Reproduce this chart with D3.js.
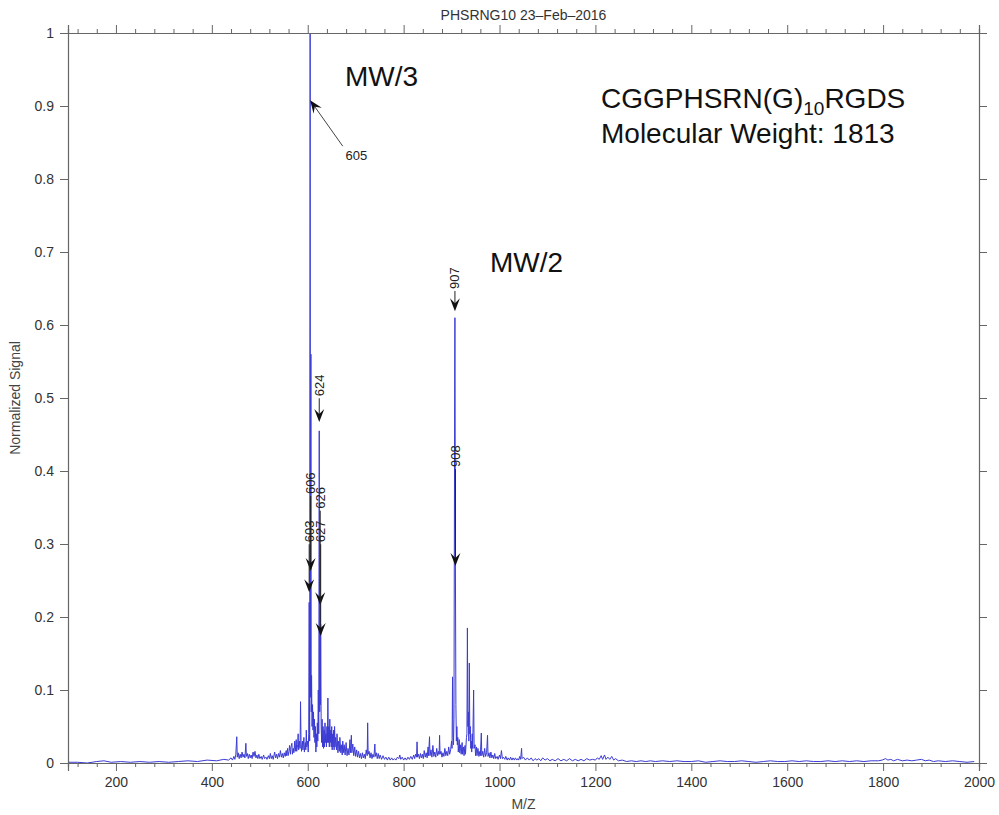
<!DOCTYPE html>
<html>
<head>
<meta charset="utf-8">
<script src="https://cdn.jsdelivr.net/npm/d3@7"></script>
<style>
  body { margin: 0; background: #fff; }
  text { font-family: "Liberation Sans", Arial, sans-serif; }
</style>
</head>
<body>
<div id="chart"></div>
<script>
// spectrum: [m/z, normalized signal]
const spectrum = [
  [100,0.001],[120,0.001],[140,0.0],[160,0.002],[175,0.003],[190,0.001],[210,0.002],[230,0.001],
  [250,0.002],[270,0.001],[290,0.002],[310,0.001],[330,0.002],[350,0.003],[370,0.002],[390,0.004],
  [410,0.003],[425,0.005],[435,0.004],[440,0.007],[443,0.004],[446,0.009],[448,0.005],[450,0.012],
  [452,0.036],[453,0.008],[455,0.014],[457,0.006],[459,0.012],[461,0.007],[463,0.015],[465,0.008],
  [467,0.012],[469,0.007],[471,0.027],[472,0.009],[474,0.013],[476,0.006],[478,0.012],[480,0.007],
  [482,0.011],[484,0.006],[486,0.015],[488,0.009],[490,0.016],[492,0.007],[494,0.011],[496,0.006],
  [498,0.012],[500,0.006],[503,0.009],[505,0.005],[508,0.011],[510,0.006],[513,0.008],[515,0.005],
  [518,0.01],[520,0.006],[522,0.013],[524,0.006],[526,0.01],[528,0.005],[531,0.015],[533,0.007],
  [535,0.012],[537,0.006],[539,0.013],[541,0.008],[543,0.017],[545,0.008],[547,0.013],[549,0.007],
  [551,0.014],[553,0.009],[555,0.017],[556,0.01],[558,0.02],[559,0.01],[561,0.016],[562,0.024],
  [564,0.012],[565,0.022],[567,0.027],[568,0.012],[570,0.02],[571,0.014],[573,0.03],[574,0.016],
  [576,0.032],[577,0.016],[579,0.025],[580,0.04],[581,0.018],[583,0.03],[584,0.02],[585,0.084],
  [586,0.03],[587,0.016],[589,0.03],[590,0.018],[592,0.035],[593,0.015],[595,0.028],[596,0.018],
  [597,0.045],[598,0.022],[600,0.03],[601,0.015],[602,0.04],[603,0.22],[604,0.03],[605,1.0],
  [605.7,0.09],[606.6,0.56],[607.3,0.07],[608,0.12],[609,0.05],[610,0.08],[611,0.045],[612,0.07],
  [613,0.035],[614,0.06],[615,0.028],[616,0.05],[617,0.015],[618,0.04],[619,0.022],[620,0.055],
  [621,0.03],[622,0.1],[623,0.04],[624,0.455],[625,0.07],[626,0.22],[626.5,0.08],[627,0.19],
  [628,0.05],[629,0.028],[630,0.06],[631,0.022],[632,0.05],[633,0.02],[634,0.045],[635,0.022],
  [636,0.055],[637,0.028],[638,0.04],[639,0.022],[640,0.05],[641,0.028],[642,0.089],[643,0.028],
  [644,0.05],[645,0.022],[646,0.06],[647,0.028],[648,0.045],[649,0.022],[650,0.05],[651,0.018],
  [652,0.04],[653,0.022],[654,0.045],[655,0.018],[656,0.05],[657,0.022],[658,0.035],[660,0.018],
  [661,0.04],[663,0.014],[664,0.03],[666,0.016],[667,0.035],[669,0.014],[670,0.025],[672,0.011],
  [673,0.03],[675,0.014],[676,0.025],[678,0.011],[680,0.028],[682,0.01],[684,0.02],[686,0.011],
  [688,0.032],[689,0.014],[691,0.038],[692,0.014],[694,0.026],[696,0.01],[698,0.022],[700,0.009],
  [702,0.018],[704,0.008],[706,0.016],[708,0.007],[710,0.013],[712,0.006],[714,0.014],[716,0.007],
  [718,0.012],[720,0.006],[722,0.018],[724,0.01],[725,0.055],[726,0.012],[728,0.016],[730,0.007],
  [732,0.014],[734,0.006],[736,0.012],[738,0.008],[740,0.026],[741,0.009],[743,0.014],[745,0.006],
  [747,0.013],[749,0.006],[751,0.011],[754,0.005],[757,0.01],[760,0.005],[763,0.008],[766,0.004],
  [769,0.008],[772,0.004],[775,0.007],[778,0.004],[781,0.006],[784,0.004],[787,0.008],[790,0.006],
  [792,0.011],[794,0.005],[797,0.008],[800,0.004],[803,0.007],[806,0.004],[809,0.008],[812,0.005],
  [815,0.009],[818,0.005],[821,0.011],[823,0.006],[825,0.012],[827,0.008],[828,0.029],[829,0.008],
  [831,0.012],[833,0.006],[835,0.013],[837,0.007],[839,0.012],[841,0.006],[843,0.017],[845,0.008],
  [847,0.014],[849,0.007],[851,0.022],[852,0.01],[854,0.036],[855,0.01],[857,0.018],[859,0.008],
  [861,0.024],[863,0.009],[865,0.015],[867,0.008],[869,0.02],[871,0.01],[873,0.016],[874,0.012],
  [875,0.038],[876,0.012],[878,0.016],[880,0.008],[882,0.014],[884,0.009],[886,0.02],[888,0.01],
  [890,0.016],[892,0.01],[894,0.022],[896,0.012],[898,0.018],[900,0.03],[901,0.02],[902,0.118],
  [903,0.04],[904,0.025],[905,0.06],[906.5,0.53],[907,0.61],[908,0.27],[909,0.08],[910,0.03],
  [911,0.05],[912,0.025],[913,0.035],[914,0.015],[916,0.032],[917,0.014],[919,0.025],[920,0.012],
  [922,0.028],[923,0.012],[925,0.022],[926,0.01],[928,0.024],[929,0.012],[931,0.035],[932,0.04],
  [933,0.185],[934,0.05],[935,0.07],[936,0.03],[937,0.137],[938,0.04],[939,0.05],[940,0.02],
  [941,0.03],[942,0.015],[943,0.04],[944,0.02],[946,0.1],[947,0.02],[949,0.025],[950,0.01],
  [952,0.022],[953,0.01],[955,0.02],[957,0.009],[959,0.016],[960,0.01],[962,0.041],[963,0.01],
  [965,0.016],[967,0.008],[969,0.02],[971,0.009],[973,0.014],[975,0.038],[976,0.009],[978,0.014],
  [980,0.007],[982,0.015],[984,0.007],[986,0.011],[988,0.006],[990,0.013],[992,0.006],[995,0.009],
  [997,0.005],[1000,0.011],[1002,0.006],[1004,0.017],[1006,0.006],[1008,0.008],[1011,0.005],[1013,0.009],
  [1016,0.004],[1018,0.007],[1021,0.004],[1023,0.008],[1026,0.004],[1028,0.007],[1031,0.004],[1033,0.007],
  [1036,0.004],[1038,0.006],[1040,0.004],[1042,0.009],[1044,0.005],[1046,0.02],[1047,0.006],[1050,0.008],
  [1054,0.004],[1058,0.007],[1062,0.004],[1066,0.007],[1070,0.003],[1074,0.006],[1078,0.004],[1082,0.006],
  [1086,0.003],[1090,0.007],[1095,0.004],[1100,0.006],[1105,0.003],[1110,0.005],[1116,0.003],[1122,0.006],
  [1128,0.003],[1134,0.005],[1140,0.003],[1146,0.006],[1152,0.003],[1158,0.005],[1164,0.003],[1170,0.005],
  [1176,0.003],[1182,0.006],[1188,0.004],[1194,0.005],[1200,0.004],[1204,0.007],[1208,0.005],[1212,0.01],
  [1215,0.005],[1219,0.011],[1222,0.005],[1226,0.008],[1230,0.005],[1234,0.009],[1238,0.004],[1242,0.006],
  [1248,0.003],[1256,0.004],[1265,0.002],[1275,0.003],[1285,0.002],[1295,0.003],[1305,0.002],[1315,0.003],
  [1325,0.002],[1340,0.003],[1355,0.002],[1370,0.003],[1385,0.002],[1400,0.002],[1415,0.003],[1430,0.001],
  [1445,0.002],[1460,0.003],[1475,0.002],[1490,0.002],[1505,0.003],[1520,0.002],[1535,0.001],[1550,0.002],
  [1565,0.003],[1580,0.002],[1595,0.002],[1610,0.003],[1625,0.002],[1640,0.003],[1655,0.002],[1670,0.002],
  [1685,0.003],[1700,0.002],[1715,0.003],[1730,0.002],[1745,0.003],[1760,0.002],[1775,0.003],[1790,0.003],
  [1798,0.004],[1805,0.006],[1810,0.004],[1816,0.005],[1822,0.003],[1830,0.005],[1840,0.003],[1850,0.004],
  [1860,0.003],[1870,0.004],[1880,0.005],[1888,0.003],[1896,0.004],[1905,0.002],[1915,0.003],[1930,0.002],
  [1945,0.003],[1960,0.002],[1975,0.001],[1990,0.002]
];

// peak labels with vertical arrows
const annLabels = ["907", "908", "624", "606", "603", "626", "627"];
const annMz     = [907, 908, 624, 606, 603, 626, 627];
const annBase   = [0.648, 0.404, 0.501, 0.367, 0.301, 0.347, 0.301]; // bottom of label
const annTip    = [0.619, 0.270, 0.467, 0.263, 0.234, 0.216, 0.174]; // arrow tip

// the tilted 605 label: [m/z, signal]
const label605 = { text: "605", at: [679, 0.826], from: [673, 0.845], tip: [605, 0.908] };

const xMajor = [200, 400, 600, 800, 1000, 1200, 1400, 1600, 1800, 2000];
const yMajor = [0, 0.1, 0.2, 0.3, 0.4, 0.5, 0.6, 0.7, 0.8, 0.9, 1];

const W = 999, H = 815;
const margin = {top: 33, right: 20, bottom: 52, left: 68};

const svg = d3.select("#chart").append("svg")
  .attr("width", W).attr("height", H);

const x = d3.scaleLinear().domain([100, 2000]).range([margin.left, W - margin.right]);
const y = d3.scaleLinear().domain([0, 1]).range([H - margin.bottom, margin.top]);

const xMinor = d3.range(120, 2000, 40).filter(v => v % 200 !== 0);

svg.append("defs").append("clipPath").attr("id", "plotclip")
  .append("rect")
  .attr("x", x(100)).attr("y", y(1) - 1)
  .attr("width", x(2000) - x(100)).attr("height", y(0) - y(1) + 1);

// spectrum
const line = d3.line().x(d => x(d[0])).y(d => y(d[1]));
svg.append("path")
  .datum(spectrum)
  .attr("clip-path", "url(#plotclip)")
  .attr("d", line)
  .attr("fill", "none")
  .attr("stroke", "#3b3bd4")
  .attr("stroke-width", 1)
  .attr("stroke-linejoin", "miter");

// axes
function styleAxis(g) {
  g.selectAll(".domain").attr("stroke", "#666");
  g.selectAll(".tick line").attr("stroke", "#666");
  g.selectAll(".tick text").attr("fill", "#333").style("font-size", "14px")
    .style("font-family", "'Liberation Sans', Arial, sans-serif");
}

svg.append("g").attr("transform", `translate(0,${y(0)})`)
  .call(d3.axisBottom(x).tickValues(xMajor).tickSize(8).tickPadding(6).tickFormat(d3.format("d")))
  .call(styleAxis);
svg.append("g").attr("transform", `translate(0,${y(0)})`)
  .call(d3.axisBottom(x).tickValues(xMinor).tickSize(4).tickFormat(""))
  .call(styleAxis);
svg.append("g").attr("transform", `translate(0,${y(1)})`)
  .call(d3.axisTop(x).tickValues(xMajor).tickSize(8).tickFormat(""))
  .call(styleAxis);
svg.append("g").attr("transform", `translate(0,${y(1)})`)
  .call(d3.axisTop(x).tickValues(xMinor).tickSize(4).tickFormat(""))
  .call(styleAxis);
svg.append("g").attr("transform", `translate(${x(100)},0)`)
  .call(d3.axisLeft(y).tickValues(yMajor).tickSize(8).tickPadding(6).tickFormat(d3.format("~g")))
  .call(styleAxis);
svg.append("g").attr("transform", `translate(${x(2000)},0)`)
  .call(d3.axisRight(y).tickValues(yMajor).tickSize(8).tickFormat(""))
  .call(styleAxis);
svg.selectAll(".domain").attr("stroke-width", 1.2);

// titles
svg.append("text").attr("x", x(1050)).attr("y", 20)
  .attr("text-anchor", "middle").style("font-size", "14px").attr("fill", "#333")
  .text("PHSRNG10 23\u2013Feb\u20132016");
svg.append("text").attr("x", x(1050)).attr("y", 809)
  .attr("text-anchor", "middle").style("font-size", "14px").attr("fill", "#444")
  .text("M/Z");
svg.append("text")
  .attr("transform", `translate(20,${(y(0) + y(1)) / 2}) rotate(-90)`)
  .attr("text-anchor", "middle").style("font-size", "14px").attr("fill", "#444")
  .text("Normalized Signal");

// arrows
function arrow(x1, y1, x2, y2, stroke) {
  const a = Math.atan2(y2 - y1, x2 - x1);
  const len = 13, half = 5, notch = 8;
  const bx = x2 - len * Math.cos(a), by = y2 - len * Math.sin(a);
  const nx = x2 - notch * Math.cos(a), ny = y2 - notch * Math.sin(a);
  const px = -Math.sin(a), py = Math.cos(a);
  svg.append("line")
    .attr("x1", x1).attr("y1", y1).attr("x2", nx).attr("y2", ny)
    .attr("stroke", stroke).attr("stroke-width", 1);
  svg.append("path")
    .attr("d", `M${x2},${y2}L${bx + half * px},${by + half * py}L${nx},${ny}L${bx - half * px},${by - half * py}Z`)
    .attr("fill", "#111");
}

annLabels.forEach((t, i) => {
  const px = x(annMz[i]);
  svg.append("text")
    .attr("transform", `translate(${px},${y(annBase[i]) - 1}) rotate(-90)`)
    .attr("text-anchor", "start").attr("dy", "0.35em")
    .style("font-size", "13px").attr("fill", "#222")
    .text(t);
  arrow(px, y(annBase[i]) + 1, px, y(annTip[i]), "#222");
});

svg.append("text")
  .attr("x", x(label605.at[0])).attr("y", y(label605.at[1]))
  .style("font-size", "13px").attr("fill", "#222")
  .text(label605.text);
arrow(x(label605.from[0]), y(label605.from[1]), x(label605.tip[0]), y(label605.tip[1]), "#444");

// big annotations
svg.append("text").attr("x", 345).attr("y", 86)
  .style("font-size", "28px").attr("fill", "#111").text("MW/3");
svg.append("text").attr("x", 490).attr("y", 272)
  .style("font-size", "28px").attr("fill", "#111").text("MW/2");

const seq = svg.append("text").attr("x", 601).attr("y", 108)
  .style("font-size", "28px").attr("fill", "#111");
seq.append("tspan").text("CGGPHSRN(G)");
seq.append("tspan").attr("dy", 7).style("font-size", "19px").text("10");
seq.append("tspan").attr("dy", -7).text("RGDS");
svg.append("text").attr("x", 601).attr("y", 143)
  .style("font-size", "28px").attr("fill", "#111").text("Molecular Weight: 1813");
</script>
</body>
</html>
